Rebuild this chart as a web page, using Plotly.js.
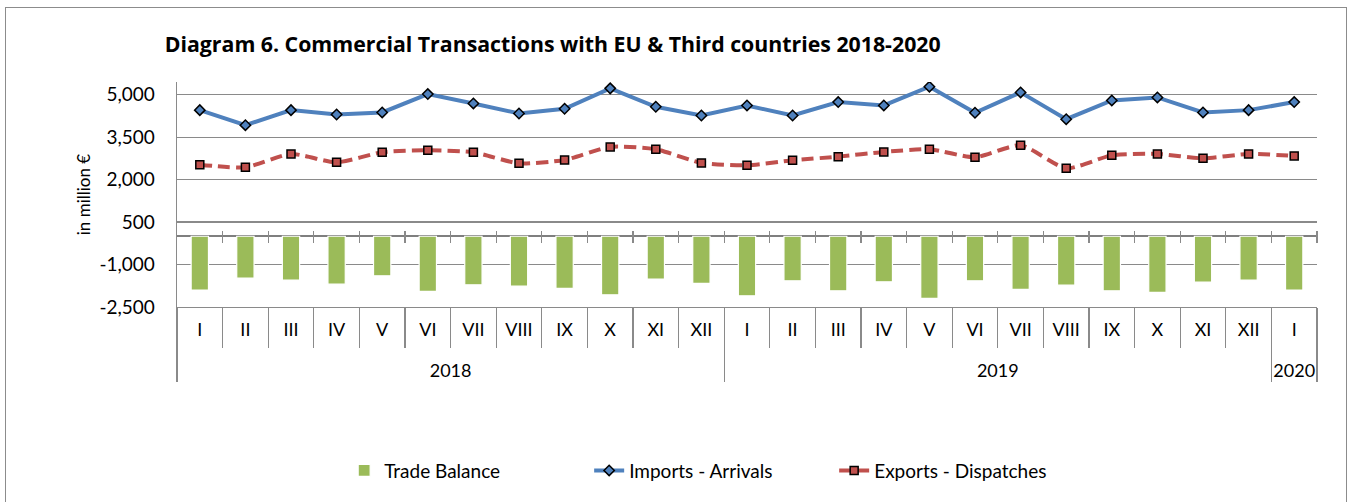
<!DOCTYPE html>
<html>
<head>
<meta charset="utf-8">
<script src="https://cdn.plot.ly/plotly-3.0.1.min.js"></script>
<style>
  html, body { margin: 0; padding: 0; background: #fff; }
  #wrap { position: relative; width: 1350px; height: 502px; overflow: hidden; }
  #chart { width: 1350px; height: 502px; }
  #frame { position: absolute; left: 5px; top: 7px; width: 1342px; height: 520px;
           border: 1.5px solid #8c8c8c; pointer-events: none; box-sizing: border-box; }
</style>
</head>
<body>
<div id="wrap">
  <div id="chart"></div>
  <div id="frame"></div>
</div>
<script>
// ---- Data (million €) ----
const years = ['2018','2018','2018','2018','2018','2018','2018','2018','2018','2018','2018','2018',
               '2019','2019','2019','2019','2019','2019','2019','2019','2019','2019','2019','2019',
               '2020'];
const months = ['I','II','III','IV','V','VI','VII','VIII','IX','X','XI','XII',
                'I','II','III','IV','V','VI','VII','VIII','IX','X','XI','XII',
                'I'];
const tradeBalance = [-1903,-1477,-1548,-1690,-1395,-1950,-1714,-1761,-1844,-2068,-1513,-1667,
                      -2104,-1572,-1926,-1607,-2198,-1572,-1879,-1726,-1926,-1986,-1619,-1548,
                      -1903];
const imports = [4456,3924,4456,4303,4374,5024,4693,4338,4504,5225,4574,4267,
                 4622,4267,4740,4622,5284,4362,5083,4137,4799,4905,4374,4456,
                 4740];
const exports_ = [2530,2435,2908,2612,2967,3038,2967,2577,2695,3156,3073,2589,
                  2506,2683,2813,2979,3073,2790,3215,2400,2861,2908,2754,2908,
                  2837];
const yTicks = [-2500,-1000,500,2000,3500,5000];
const yTickText = ['-2,500','-1,000','500','2,000','3,500','5,000'];
const boundaryTicks = [0.5,1.5,2.5,3.5,4.5,5.5,6.5,7.5,8.5,9.5,10.5,11.5,12.5,13.5,14.5,15.5,16.5,17.5,18.5,19.5,20.5,21.5,22.5,23.5,24.5];

const FONT = 'Lato, "Open Sans", sans-serif';
const GRID = '#8a8a8a';

// year labels get a leading blank line so they sit lower, as in the reference
const yearLabels = years.map(function (y) { return ' <br>' + y; });
const xcat = [yearLabels, months];

const traces = [
  {
    type: 'bar', name: 'Trade Balance', x: xcat, y: tradeBalance,
    marker: { color: '#9BBB59', line: { color: '#ffffff', width: 1.2 } },
    hoverinfo: 'skip'
  },
  {
    type: 'scatter', mode: 'lines+markers', name: 'Imports - Arrivals', x: xcat, y: imports,
    line: { color: '#4F81BD', width: 4 },
    marker: { symbol: 'diamond', size: 8, color: '#4F81BD', line: { color: '#000', width: 1.5 } },
    hoverinfo: 'skip'
  },
  {
    type: 'scatter', mode: 'lines+markers', name: 'Exports - Dispatches', x: xcat, y: exports_,
    line: { color: '#C0504D', width: 4, dash: '12px,6px', shape: 'spline', smoothing: 0.6 },
    marker: { symbol: 'square', size: 8, color: '#C0504D', line: { color: '#000', width: 1.5 } },
    hoverinfo: 'skip'
  },
  {
    type: 'scatter', mode: 'lines', x: [], y: [], xaxis: 'x2', yaxis: 'y',
    showlegend: false, hoverinfo: 'skip'
  }
];

const layout = {
  width: 1350, height: 502,
  margin: { l: 177, r: 33, t: 82, b: 195.3 },
  paper_bgcolor: '#fff', plot_bgcolor: '#fff',
  font: { family: FONT, color: '#000', size: 18 },
  showlegend: true,
  title: {
    text: '<b>Diagram 6. Commercial Transactions with EU & Third countries 2018-2020</b>',
    font: { family: '"Open Sans", sans-serif', size: 21.3, color: '#000' },
    xref: 'container', yref: 'container', x: 0.122, xanchor: 'left', y: 0.912, yanchor: 'middle'
  },
  bargap: 0.62,
  xaxis: {
    type: 'multicategory', range: [-0.5, 24.5], autorange: false,
    showline: true, linecolor: GRID, linewidth: 1.3,
    ticks: 'outside', ticklen: 40, tickcolor: GRID, tickwidth: 1.3,
    ticklabelstandoff: 6,
    showdividers: true, dividercolor: GRID, dividerwidth: 1.3,
    tickfont: { family: FONT, size: 18, color: '#000' },
    showgrid: false, zeroline: false, fixedrange: true
  },
  xaxis2: {
    overlaying: 'x', anchor: 'free', position: 0.3412, type: 'linear',
    range: [-0.5, 24.5], autorange: false, tickvals: boundaryTicks, showticklabels: false,
    ticks: 'outside', ticklen: 12, tickcolor: GRID, tickwidth: 1.3,
    showgrid: false, showline: false, zeroline: false, fixedrange: true
  },
  yaxis: {
    range: [-2500, 5450], autorange: false,
    tickvals: yTicks, ticktext: yTickText,
    showgrid: true, gridcolor: GRID, gridwidth: 1.3,
    zeroline: true, zerolinecolor: '#7f7f7f', zerolinewidth: 2,
    showline: true, linecolor: GRID, linewidth: 1.3,
    ticks: '', ticklabelstandoff: 17,
    tickfont: { family: FONT, size: 19, color: '#000' },
    title: { text: 'in million €', font: { family: FONT, size: 17, color: '#000' }, standoff: 4 },
    fixedrange: true
  },
  legend: {
    orientation: 'h', x: 0.469, xanchor: 'center', y: -0.727, yanchor: 'middle',
    font: { family: FONT, size: 19, color: '#000' }, entrywidth: 200, entrywidthmode: 'pixels'
  }
};

Plotly.newPlot('chart', traces, layout, { staticPlot: true, displayModeBar: false });
</script>
</body>
</html>
